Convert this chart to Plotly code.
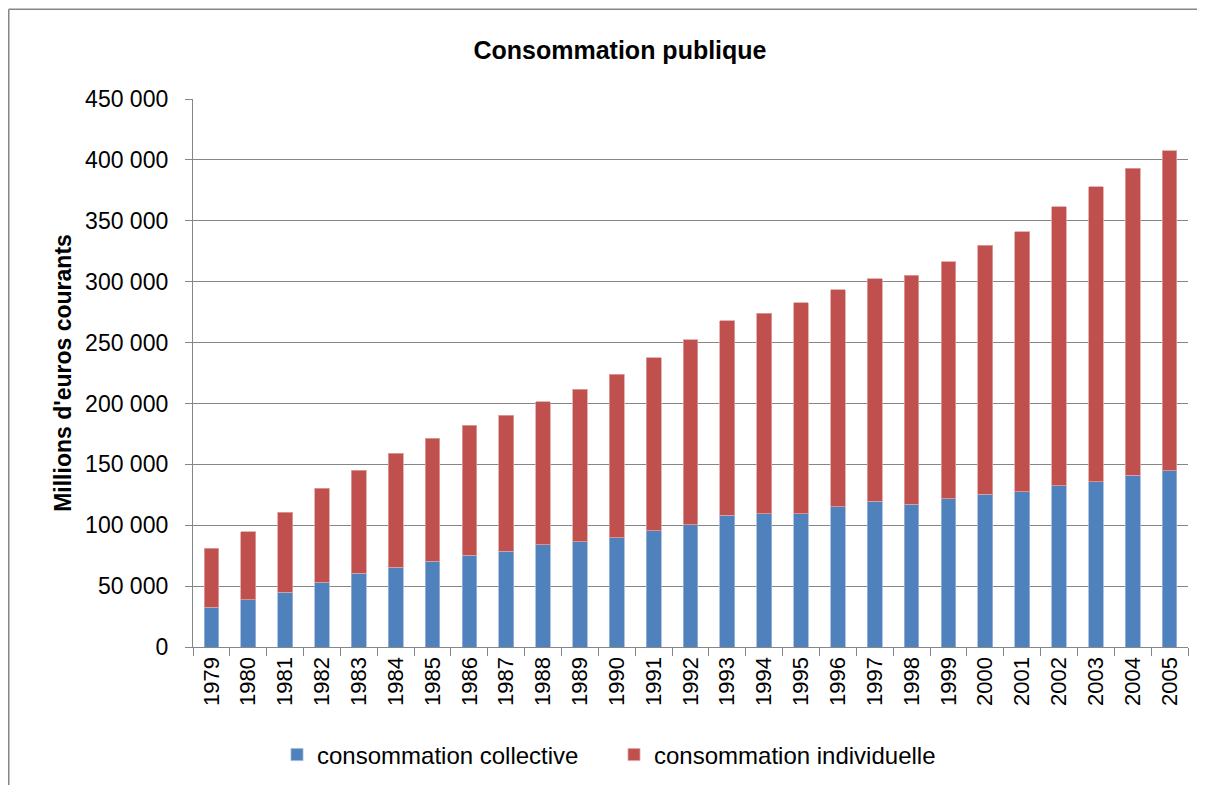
import plotly.graph_objects as go

years = [str(y) for y in range(1979, 2006)]
totals = [81100, 94800, 110600, 130300, 145300, 159300, 171300, 182000, 190300,
          201600, 211700, 224000, 237700, 252200, 268000, 274000, 282500, 293200,
          302400, 305300, 316500, 330000, 340800, 361600, 377800, 393300, 407700]
collective = [32800, 38800, 45100, 53000, 60400, 65600, 70500, 75400, 78700,
              84100, 86300, 89900, 95300, 100500, 108200, 109300, 109300, 115300,
              119700, 117300, 121700, 125500, 127600, 132300, 135500, 141100, 144900]
individuelle = [t - c for t, c in zip(totals, collective)]

font_family = "Liberation Sans, Arial, sans-serif"
W, H = 1189, 777
ML, MR, MT, MB = 185, 9, 91, 137
PW, PH = W - ML - MR, H - MT - MB

fig = go.Figure()
fig.add_trace(go.Bar(x=years, y=collective, name="consommation collective",
                     marker=dict(color="#4F81BD", line=dict(color="#9DB7DA", width=0.8))))
fig.add_trace(go.Bar(x=years, y=individuelle, name="consommation individuelle",
                     marker=dict(color="#C0504D", line=dict(color="#DFA3A1", width=0.8))))

fig.update_layout(
    barmode="stack",
    bargap=0.6,
    width=W, height=H,
    margin=dict(l=ML, r=MR, t=MT, b=MB),
    paper_bgcolor="white", plot_bgcolor="white",
    font=dict(family=font_family, size=22, color="black"),
    title=dict(text="<b>Consommation publique</b>", x=612 / W, xanchor="center",
               y=1 - 42 / H, yanchor="middle", font=dict(size=25, family=font_family)),
    legend=dict(orientation="h", x=(269 - ML) / PW, xanchor="left",
                y=-(747 - (MT + PH)) / PH, yanchor="middle",
                font=dict(size=24), traceorder="normal", entrywidth=292),
    showlegend=True,
)
fig.update_yaxes(range=[0, 450000], tickvals=list(range(0, 450001, 50000)),
                 ticktext=["0"] + [f"{v//1000} 000" for v in range(50000, 450001, 50000)],
                 showgrid=True, gridcolor="#868686", gridwidth=1.3,
                 showline=True, linecolor="#868686", linewidth=1.3,
                 ticks="outside", ticklen=7, tickcolor="#868686", tickwidth=1.3,
                 ticklabelstandoff=12,
                 zeroline=False, mirror=False,
                 title=dict(text="<b>Millions d'euros courants</b>", font=dict(size=23), standoff=7),
                 tickfont=dict(size=23))
fig.update_xaxes(type="category", tickangle=-90, showline=True, linecolor="#868686", linewidth=1.3,
                 ticks="outside", tickson="boundaries", ticklen=8, tickcolor="#868686", tickwidth=1.3,
                 tickfont=dict(size=22), showgrid=False)

# outer chart border (left and top edges visible in the reference)
bx = -(ML - 0.75) / PW
by = (MT + PH - 1.0) / PH
fig.add_shape(type="line", xref="paper", yref="paper", x0=bx, x1=bx, y0=-(MB + 5) / PH, y1=by,
              line=dict(color="#868686", width=1.5))
fig.add_shape(type="line", xref="paper", yref="paper", x0=bx, x1=1 + (MR + 5) / PW, y0=by, y1=by,
              line=dict(color="#868686", width=1.5))

fig.write_html("out.html")
